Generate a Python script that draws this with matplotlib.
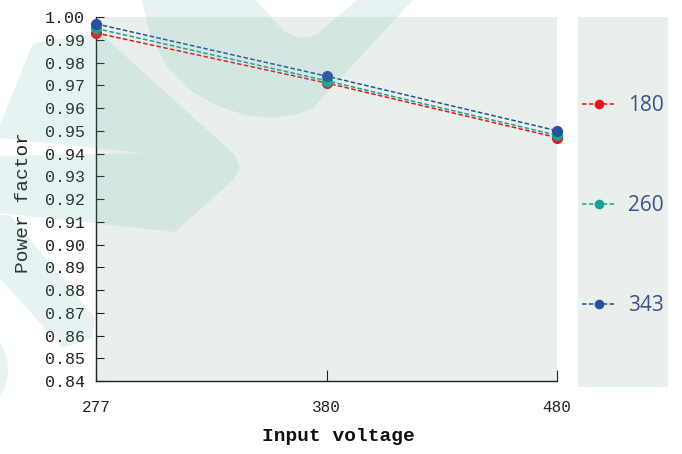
import matplotlib
matplotlib.use("Agg")
import matplotlib.pyplot as plt
from matplotlib import font_manager
from matplotlib.patches import Polygon, Circle

# ---- data ----
voltages = ["277", "380", "480"]
series_labels = ["180", "260", "343"]
pf_180 = [0.993, 0.971, 0.947]
pf_260 = [0.995, 0.972, 0.948]
pf_343 = [0.997, 0.974, 0.950]
yticks = [0.84 + 0.01 * i for i in range(17)]

colors = ["#e8141c", "#17a391", "#2a4f9e"]


def pick(cands):
    names = {f.name for f in font_manager.fontManager.ttflist}
    for c in cands:
        if c in names:
            return c
    return "DejaVu Serif"


serif_font = pick(["Liberation Mono", "DejaVu Sans Mono"])
narrow_font = pick(["Liberation Sans Narrow", "Open Sans", "Noto Sans"])

W, H = 682, 454
fig = plt.figure(figsize=(W / 100, H / 100), dpi=100)
fig.patch.set_facecolor("white")

bg = "#e9f0eb"
ax = fig.add_axes([96 / W, 1 - 381 / H, 461 / W, 364 / H])
ax.set_facecolor(bg)
xs = list(range(len(voltages)))
for vals, lab, c in zip([pf_180, pf_260, pf_343], series_labels, colors):
    ax.plot(xs, vals, linestyle=(0, (3, 1.5)), color=c, lw=1.1, marker="o",
            markersize=7, label=lab, clip_on=False, zorder=3)
ax.set_xlim(0, 2)
ax.set_ylim(0.84, 1.00)
ax.set_xticks(xs)
ax.set_xticklabels(voltages)
ax.set_yticks(yticks)
ax.set_yticklabels([f"{v:.2f}" for v in yticks])
for s in ["top", "right"]:
    ax.spines[s].set_visible(False)
for s in ["left", "bottom"]:
    ax.spines[s].set_color("#222222")
    ax.spines[s].set_linewidth(1.0)
ax.tick_params(axis="y", direction="in", length=6, pad=8, labelsize=12,
               colors="#222222")
ax.tick_params(axis="x", direction="in", length=8, pad=14, labelsize=11.5,
               colors="#222222")
for t in ax.get_xticklabels() + ax.get_yticklabels():
    t.set_fontfamily(serif_font)
ax.set_ylabel("Power factor", fontsize=14, family=serif_font, color="#222222")
ax.yaxis.set_label_coords(-0.139, 0.49)
ax.set_xlabel("Input voltage", fontsize=14, family=serif_font,
              fontweight="bold", color="#111111")
ax.xaxis.set_label_coords(0.525, -0.128)

# legend panel
lax = fig.add_axes([578 / W, 1 - 387 / H, 90 / W, 370 / H])
lax.set_facecolor(bg)
for s in lax.spines.values():
    s.set_visible(False)
lax.set_xticks([])
lax.set_yticks([])
h, l = ax.get_legend_handles_labels()
leg = lax.legend(h, l, loc="center", frameon=False, labelspacing=3.8,
                 handlelength=1.6, handletextpad=0.6, markerscale=0.85,
                 prop={"family": narrow_font, "size": 15},
                 bbox_to_anchor=(0.5, 0.49))
for t in leg.get_texts():
    t.set_color("#3d4f8e")

# watermark overlay
wax = fig.add_axes([0, 0, 1, 1], zorder=10)
wax.set_xlim(0, W)
wax.set_ylim(H, 0)
wax.axis("off")
wc = "#5fb3aa"
wa = 0.15
shapes = [
    [(142, 0), (150, 35), (167, 67), (190, 90), (215, 105), (245, 115),
     (270, 118), (295, 115), (313, 108), (413, 0), (357, 0), (316, 35),
     (300, 38), (285, 32), (255, 0)],
    [(33, 43), (100, 33), (235, 155), (240, 168), (233, 180), (175, 232),
     (0, 213), (0, 156), (143, 153), (0, 138), (0, 125)],
    [(0, 215), (10, 215), (95, 318), (92, 338), (62, 348), (0, 278)],
]
for pts in shapes:
    wax.add_patch(Polygon(pts, closed=True, facecolor=wc, edgecolor="none",
                          alpha=wa))
wax.add_patch(Circle((-40, 370), 48, facecolor=wc, edgecolor="none", alpha=wa))

fig.savefig("out.png", dpi=100)
